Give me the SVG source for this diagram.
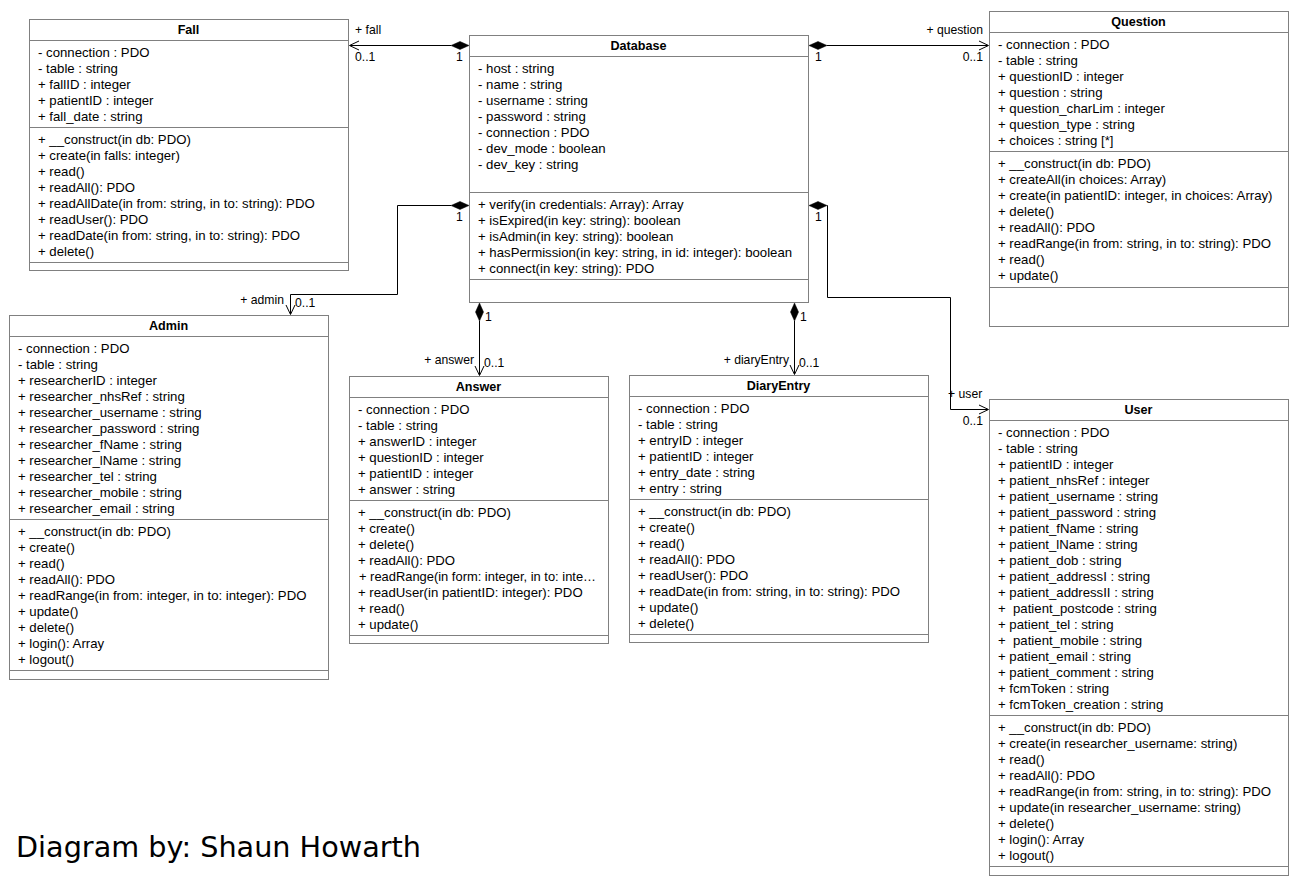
<svg xmlns="http://www.w3.org/2000/svg" width="1301" height="887" viewBox="0 0 1301 887">
<style>
.box{fill:#fff;stroke:#808080;stroke-width:1}
.sep{stroke:#808080;stroke-width:1}
text{font-family:"Liberation Sans",Arial,sans-serif;font-size:13.2px;fill:#000;white-space:pre}
.ttl{font-weight:bold;text-anchor:middle;font-size:12.6px}
.lbl{font-size:12.2px}
.end{text-anchor:end}
.conn{fill:none;stroke:#000;stroke-width:1}
.dia{fill:#000;stroke:#000;stroke-width:0.5}
.arr{fill:none;stroke:#000;stroke-width:1}
.foot{font-family:"DejaVu Sans",Verdana,sans-serif;font-size:28.7px}
</style>
<rect width="1301" height="887" fill="#fff"/>

<g id="connectors">
  <!-- Fall -->
  <path class="conn" d="M451,45.5 H350"/>
  <path class="dia" d="M469,45.5 L460,41.5 L451,45.5 L460,49.5 Z"/>
  <path class="arr" d="M359,41 L349.5,45.5 L359,50"/>
  <text class="lbl" x="355" y="34">+ fall</text>
  <text class="lbl" x="355" y="61">0..1</text>
  <text class="lbl" x="456" y="61">1</text>
  <!-- Question -->
  <path class="conn" d="M827,45.5 H988"/>
  <path class="dia" d="M809,45.5 L818,41.5 L827,45.5 L818,49.5 Z"/>
  <path class="arr" d="M979,41 L988.5,45.5 L979,50"/>
  <text class="lbl end" x="983" y="34">+ question</text>
  <text class="lbl end" x="983" y="61">0..1</text>
  <text class="lbl" x="815" y="61">1</text>
  <!-- Admin -->
  <path class="conn" d="M451,205.5 H397.5 V294.5 H290.5 V314"/>
  <path class="dia" d="M469,205.5 L460,201.5 L451,205.5 L460,209.5 Z"/>
  <path class="arr" d="M286,305 L290.5,314.5 L295,305"/>
  <text class="lbl end" x="284" y="304">+ admin</text>
  <text class="lbl" x="295" y="307">0..1</text>
  <text class="lbl" x="456" y="221">1</text>
  <!-- Answer -->
  <path class="conn" d="M479.5,321 V375"/>
  <path class="dia" d="M479.5,303 L475.5,312 L479.5,321 L483.5,312 Z"/>
  <path class="arr" d="M475,366 L479.5,375.5 L484,366"/>
  <text class="lbl end" x="474" y="364">+ answer</text>
  <text class="lbl" x="484" y="367">0..1</text>
  <text class="lbl" x="485" y="321">1</text>
  <!-- DiaryEntry -->
  <path class="conn" d="M794.5,321 V374"/>
  <path class="dia" d="M794.5,303 L790.5,312 L794.5,321 L798.5,312 Z"/>
  <path class="arr" d="M790,365 L794.5,374.5 L799,365"/>
  <text class="lbl end" x="789" y="364">+ diaryEntry</text>
  <text class="lbl" x="799" y="367">0..1</text>
  <text class="lbl" x="800" y="321">1</text>
  <!-- User -->
  <path class="conn" d="M827,205.5 H827.5 V297.5 H950.5 V409.5 H988"/>
  <path class="dia" d="M809,205.5 L818,201.5 L827,205.5 L818,209.5 Z"/>
  <path class="arr" d="M979,405 L988.5,409.5 L979,414"/>
  <text class="lbl" x="948" y="398">+ user</text>
  <text class="lbl end" x="983" y="425">0..1</text>
  <text class="lbl" x="815" y="221">1</text>
</g>

<g id="Fall">
  <rect class="box" x="29.5" y="19.5" width="319" height="251"/>
  <line class="sep" x1="29.5" y1="40.5" x2="348.5" y2="40.5"/>
  <line class="sep" x1="29.5" y1="127.5" x2="348.5" y2="127.5"/>
  <line class="sep" x1="29.5" y1="262.5" x2="348.5" y2="262.5"/>
  <text class="ttl" x="188.5" y="34">Fall</text>
  <text x="38" y="56.5">- connection : PDO</text>
  <text x="38" y="72.5">- table : string</text>
  <text x="38" y="88.5">+ fallID : integer</text>
  <text x="38" y="104.5">+ patientID : integer</text>
  <text x="38" y="120.5">+ fall_date : string</text>
  <text x="38" y="143.5">+ __construct(in db: PDO)</text>
  <text x="38" y="159.5">+ create(in falls: integer)</text>
  <text x="38" y="175.5">+ read()</text>
  <text x="38" y="191.5">+ readAll(): PDO</text>
  <text x="38" y="207.5">+ readAllDate(in from: string, in to: string): PDO</text>
  <text x="38" y="223.5">+ readUser(): PDO</text>
  <text x="38" y="239.5">+ readDate(in from: string, in to: string): PDO</text>
  <text x="38" y="255.5">+ delete()</text>
</g>

<g id="Database">
  <rect class="box" x="469.5" y="35.5" width="339" height="267"/>
  <line class="sep" x1="469.5" y1="56.5" x2="808.5" y2="56.5"/>
  <line class="sep" x1="469.5" y1="192.5" x2="808.5" y2="192.5"/>
  <line class="sep" x1="469.5" y1="279.5" x2="808.5" y2="279.5"/>
  <text class="ttl" x="638.5" y="50">Database</text>
  <text x="478" y="72.5">- host : string</text>
  <text x="478" y="88.5">- name : string</text>
  <text x="478" y="104.5">- username : string</text>
  <text x="478" y="120.5">- password : string</text>
  <text x="478" y="136.5">- connection : PDO</text>
  <text x="478" y="152.5">- dev_mode : boolean</text>
  <text x="478" y="168.5">- dev_key : string</text>
  <text x="478" y="208.5">+ verify(in credentials: Array): Array</text>
  <text x="478" y="224.5">+ isExpired(in key: string): boolean</text>
  <text x="478" y="240.5">+ isAdmin(in key: string): boolean</text>
  <text x="478" y="256.5">+ hasPermission(in key: string, in id: integer): boolean</text>
  <text x="478" y="272.5">+ connect(in key: string): PDO</text>
</g>

<g id="Question">
  <rect class="box" x="989.5" y="11.5" width="299" height="315"/>
  <line class="sep" x1="989.5" y1="32.5" x2="1288.5" y2="32.5"/>
  <line class="sep" x1="989.5" y1="151.5" x2="1288.5" y2="151.5"/>
  <line class="sep" x1="989.5" y1="287.5" x2="1288.5" y2="287.5"/>
  <text class="ttl" x="1138.5" y="26">Question</text>
  <text x="998" y="48.5">- connection : PDO</text>
  <text x="998" y="64.5">- table : string</text>
  <text x="998" y="80.5">+ questionID : integer</text>
  <text x="998" y="96.5">+ question : string</text>
  <text x="998" y="112.5">+ question_charLim : integer</text>
  <text x="998" y="128.5">+ question_type : string</text>
  <text x="998" y="144.5">+ choices : string [*]</text>
  <text x="998" y="167.5">+ __construct(in db: PDO)</text>
  <text x="998" y="183.5">+ createAll(in choices: Array)</text>
  <text x="998" y="199.5">+ create(in patientID: integer, in choices: Array)</text>
  <text x="998" y="215.5">+ delete()</text>
  <text x="998" y="231.5">+ readAll(): PDO</text>
  <text x="998" y="247.5">+ readRange(in from: string, in to: string): PDO</text>
  <text x="998" y="263.5">+ read()</text>
  <text x="998" y="279.5">+ update()</text>
</g>

<g id="Admin">
  <rect class="box" x="9.5" y="315.5" width="319" height="364"/>
  <line class="sep" x1="9.5" y1="336.5" x2="328.5" y2="336.5"/>
  <line class="sep" x1="9.5" y1="519.5" x2="328.5" y2="519.5"/>
  <line class="sep" x1="9.5" y1="670.5" x2="328.5" y2="670.5"/>
  <text class="ttl" x="168.5" y="330">Admin</text>
  <text x="18" y="352.5">- connection : PDO</text>
  <text x="18" y="368.5">- table : string</text>
  <text x="18" y="384.5">+ researcherID : integer</text>
  <text x="18" y="400.5">+ researcher_nhsRef : string</text>
  <text x="18" y="416.5">+ researcher_username : string</text>
  <text x="18" y="432.5">+ researcher_password : string</text>
  <text x="18" y="448.5">+ researcher_fName : string</text>
  <text x="18" y="464.5">+ researcher_lName : string</text>
  <text x="18" y="480.5">+ researcher_tel : string</text>
  <text x="18" y="496.5">+ researcher_mobile : string</text>
  <text x="18" y="512.5">+ researcher_email : string</text>
  <text x="18" y="535.5">+ __construct(in db: PDO)</text>
  <text x="18" y="551.5">+ create()</text>
  <text x="18" y="567.5">+ read()</text>
  <text x="18" y="583.5">+ readAll(): PDO</text>
  <text x="18" y="599.5">+ readRange(in from: integer, in to: integer): PDO</text>
  <text x="18" y="615.5">+ update()</text>
  <text x="18" y="631.5">+ delete()</text>
  <text x="18" y="647.5">+ login(): Array</text>
  <text x="18" y="663.5">+ logout()</text>
</g>

<g id="Answer">
  <rect class="box" x="349.5" y="376.5" width="259" height="267"/>
  <line class="sep" x1="349.5" y1="397.5" x2="608.5" y2="397.5"/>
  <line class="sep" x1="349.5" y1="500.5" x2="608.5" y2="500.5"/>
  <line class="sep" x1="349.5" y1="635.5" x2="608.5" y2="635.5"/>
  <text class="ttl" x="478.5" y="391">Answer</text>
  <text x="358" y="413.5">- connection : PDO</text>
  <text x="358" y="429.5">- table : string</text>
  <text x="358" y="445.5">+ answerID : integer</text>
  <text x="358" y="461.5">+ questionID : integer</text>
  <text x="358" y="477.5">+ patientID : integer</text>
  <text x="358" y="493.5">+ answer : string</text>
  <text x="358" y="516.5">+ __construct(in db: PDO)</text>
  <text x="358" y="532.5">+ create()</text>
  <text x="358" y="548.5">+ delete()</text>
  <text x="358" y="564.5">+ readAll(): PDO</text>
  <text x="359" y="580.5" textLength="237" lengthAdjust="spacingAndGlyphs">+ readRange(in form: integer, in to: inte…</text>
  <text x="358" y="596.5">+ readUser(in patientID: integer): PDO</text>
  <text x="358" y="612.5">+ read()</text>
  <text x="358" y="628.5">+ update()</text>
</g>

<g id="DiaryEntry">
  <rect class="box" x="629.5" y="375.5" width="299" height="267"/>
  <line class="sep" x1="629.5" y1="396.5" x2="928.5" y2="396.5"/>
  <line class="sep" x1="629.5" y1="499.5" x2="928.5" y2="499.5"/>
  <line class="sep" x1="629.5" y1="634.5" x2="928.5" y2="634.5"/>
  <text class="ttl" x="778.5" y="390">DiaryEntry</text>
  <text x="638" y="412.5">- connection : PDO</text>
  <text x="638" y="428.5">- table : string</text>
  <text x="638" y="444.5">+ entryID : integer</text>
  <text x="638" y="460.5">+ patientID : integer</text>
  <text x="638" y="476.5">+ entry_date : string</text>
  <text x="638" y="492.5">+ entry : string</text>
  <text x="638" y="515.5">+ __construct(in db: PDO)</text>
  <text x="638" y="531.5">+ create()</text>
  <text x="638" y="547.5">+ read()</text>
  <text x="638" y="563.5">+ readAll(): PDO</text>
  <text x="638" y="579.5">+ readUser(): PDO</text>
  <text x="638" y="595.5">+ readDate(in from: string, in to: string): PDO</text>
  <text x="638" y="611.5">+ update()</text>
  <text x="638" y="627.5">+ delete()</text>
</g>

<g id="User">
  <rect class="box" x="989.5" y="399.5" width="299" height="476"/>
  <line class="sep" x1="989.5" y1="420.5" x2="1288.5" y2="420.5"/>
  <line class="sep" x1="989.5" y1="715.5" x2="1288.5" y2="715.5"/>
  <line class="sep" x1="989.5" y1="866.5" x2="1288.5" y2="866.5"/>
  <text class="ttl" x="1138.5" y="414">User</text>
  <text x="998" y="436.5">- connection : PDO</text>
  <text x="998" y="452.5">- table : string</text>
  <text x="998" y="468.5">+ patientID : integer</text>
  <text x="998" y="484.5">+ patient_nhsRef : integer</text>
  <text x="998" y="500.5">+ patient_username : string</text>
  <text x="998" y="516.5">+ patient_password : string</text>
  <text x="998" y="532.5">+ patient_fName : string</text>
  <text x="998" y="548.5">+ patient_lName : string</text>
  <text x="998" y="564.5">+ patient_dob : string</text>
  <text x="998" y="580.5">+ patient_addressI : string</text>
  <text x="998" y="596.5">+ patient_addressII : string</text>
  <text x="998" y="612.5">+  patient_postcode : string</text>
  <text x="998" y="628.5">+ patient_tel : string</text>
  <text x="998" y="644.5">+  patient_mobile : string</text>
  <text x="998" y="660.5">+ patient_email : string</text>
  <text x="998" y="676.5">+ patient_comment : string</text>
  <text x="998" y="692.5">+ fcmToken : string</text>
  <text x="998" y="708.5">+ fcmToken_creation : string</text>
  <text x="998" y="731.5">+ __construct(in db: PDO)</text>
  <text x="998" y="747.5">+ create(in researcher_username: string)</text>
  <text x="998" y="763.5">+ read()</text>
  <text x="998" y="779.5">+ readAll(): PDO</text>
  <text x="998" y="795.5">+ readRange(in from: string, in to: string): PDO</text>
  <text x="998" y="811.5">+ update(in researcher_username: string)</text>
  <text x="998" y="827.5">+ delete()</text>
  <text x="998" y="843.5">+ login(): Array</text>
  <text x="998" y="859.5">+ logout()</text>
</g>

<text class="foot" x="16" y="857">Diagram by: Shaun Howarth</text>
</svg>
